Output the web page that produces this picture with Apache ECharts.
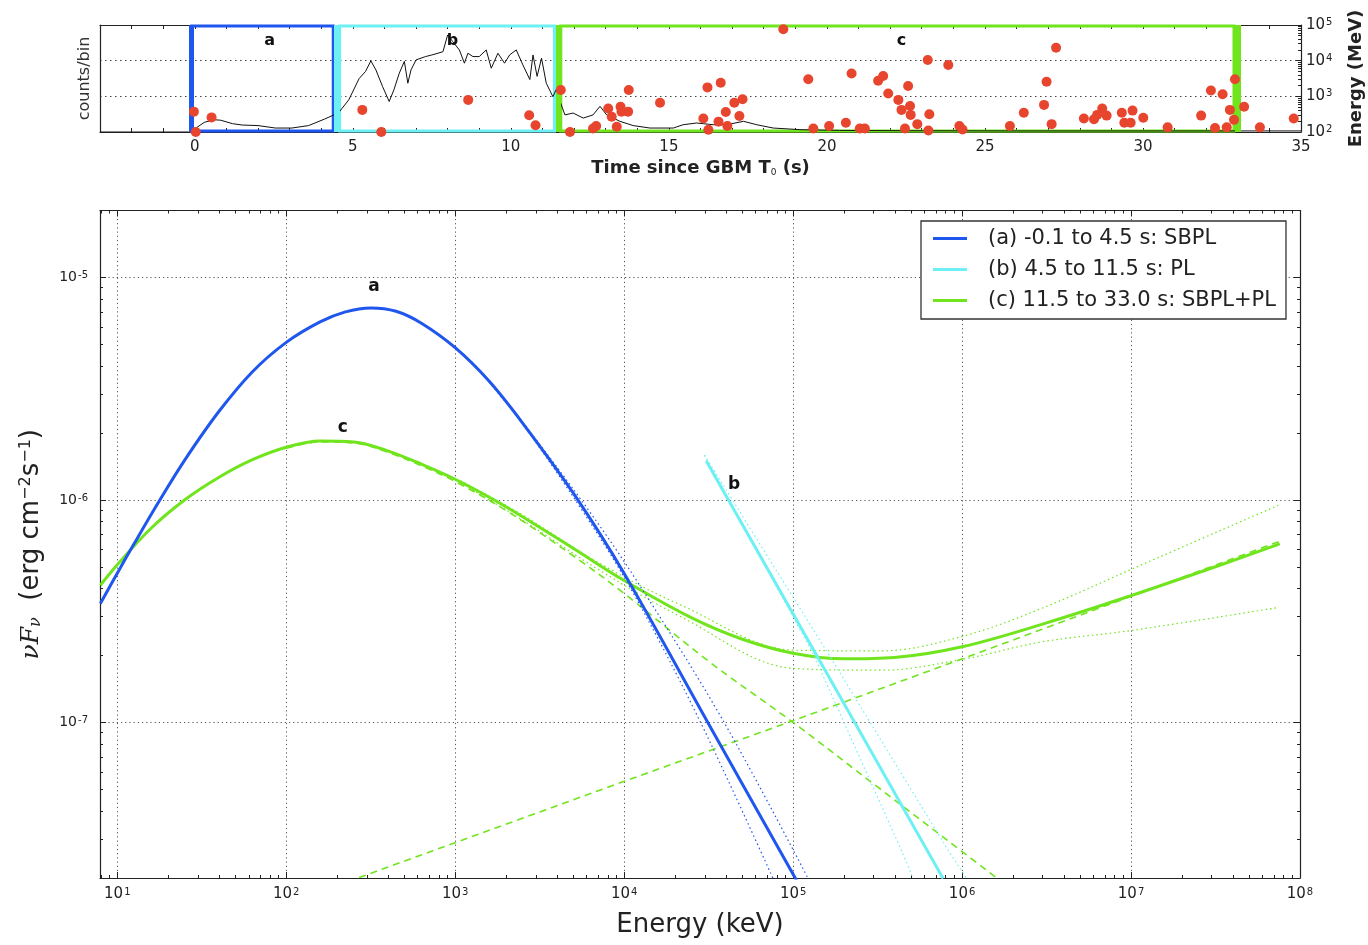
<!DOCTYPE html>
<html><head><meta charset="utf-8">
<script src="https://cdn.jsdelivr.net/npm/echarts@6/dist/echarts.min.js"></script>
<style>html,body{margin:0;padding:0;background:#fff}#c{width:1368px;height:945px}</style>
</head><body><div id="c"></div>
<script>
// ===== Top panel: light curve (arbitrary counts/bin, fraction of panel) =====
const lcTime = [-3,-0.2,0.05,0.3,0.6,0.82,1.19,1.5,2.0,2.55,3.07,3.6,4.1,4.55,4.87,5.2,5.4,5.57,5.73,5.94,6.15,6.3,6.47,6.63,6.74,6.84,7.0,7.3,7.5,7.85,8.0,8.16,8.37,8.53,8.64,8.8,9.0,9.22,9.38,9.59,9.8,9.96,10.17,10.38,10.6,10.7,10.83,10.97,11.12,11.33,11.44,11.54,11.71,11.97,12.29,12.6,12.82,13.03,13.45,13.87,14.4,15.14,15.45,15.88,16.4,16.83,17.36,17.78,18.3,19.15,20.4,22.5,26,30,35];
const lcCounts = [0,0,0.04,0.09,0.115,0.11,0.078,0.065,0.06,0.037,0.037,0.06,0.12,0.18,0.30,0.50,0.565,0.665,0.58,0.425,0.285,0.395,0.55,0.66,0.456,0.58,0.674,0.705,0.72,0.75,0.907,0.845,0.767,0.643,0.736,0.705,0.705,0.767,0.596,0.736,0.643,0.72,0.767,0.627,0.49,0.72,0.52,0.69,0.456,0.33,0.40,0.3,0.16,0.177,0.13,0.16,0.24,0.16,0.1,0.06,0.037,0.037,0.068,0.084,0.068,0.068,0.1,0.068,0.037,0.022,0.015,0.012,0.01,0.01,0.01];
// LAT photons: time (s) and energy (MeV)
const latTime = [-0.03,0.53,0.03,5.3,5.9,8.65,10.58,10.78,11.58,11.87,12.6,12.7,13.08,13.19,13.35,13.47,13.5,13.71,13.73,14.72,16.09,16.22,16.25,16.57,16.64,16.8,16.85,17.07,17.23,17.33,18.62,19.41,19.57,20.07,20.6,20.78,21.04,21.2,21.62,21.78,21.94,22.26,22.36,22.47,22.57,22.63,22.65,22.86,23.19,23.24,23.21,23.84,24.19,24.29,25.79,26.23,26.87,26.95,27.11,27.25,28.13,28.45,28.55,28.71,28.85,29.33,29.41,29.61,29.67,30.01,30.78,31.84,32.15,32.28,32.52,32.65,32.75,32.88,32.91,33.2,33.7,34.77];
const latEnergy = [372,257,100,417,100,794,295,155,1510,100,126,148,457,269,141,513,372,372,1510,661,240,1780,115,195,2400,363,148,661,282,832,75900,3020,126,148,182,4370,126,126,2750,3720,1200,794,417,126,1950,537,302,166,10500,316,110,7590,148,117,148,347,575,2570,166,22900,240,229,302,457,288,347,182,182,398,251,135,288,1450,129,1150,135,417,219,3020,513,135,240];
// time intervals
const intervalLetters = ['a','b','c'];
const intervalStart = [-0.1, 4.5, 11.5];
const intervalEnd = [4.5, 11.5, 33.0];
const intervalLabelTime = [2.37, 8.15, 22.36];
const intervalLabelEnergy = [35600, 35600, 35600];
const timeTickValues = [-3,-2,-1,0,1,2,3,4,5,6,7,8,9,10,11,12,13,14,15,16,17,18,19,20,21,22,23,24,25,26,27,28,29,30,31,32,33,34,35];
const timeLabelValues = [0,5,10,15,20,25,30,35];

// ===== Bottom panel: nuFnu spectra (keV, erg cm^-2 s^-1) =====
const aE = [7.943,10,12.59,17.78,25.12,39.81,63.1,100,158.5,223.9,316.2,446.7,631,1000,1585,2512,5012,10000,31620,104700];
const aF = [3.428e-7,4.688e-7,6.368e-7,9.94e-7,1.515e-6,2.491e-6,3.772e-6,5.11e-6,6.316e-6,7.005e-6,7.301e-6,7.053e-6,6.231e-6,4.835e-6,3.423e-6,2.211e-6,1.07e-6,4.672e-7,9.85e-8,1.953e-8];
const aLoE = [1585,2512,5557,10990,27900,75930];
const aLoF = [3.39e-6,2.19e-6,9.13e-7,3.97e-7,1.024e-7,1.996e-8];
const aHiE = [1585,2512,5948,12040,38380,122400];
const aHiF = [3.46e-6,2.235e-6,9.33e-7,4.26e-7,1.024e-7,1.996e-8];

const bE = [30570,143400,772000];
const bF = [1.499e-6,1.90e-7,1.99e-8];
const bLoE = [29870,131000,436900,512600];
const bLoF = [1.59e-6,2.048e-7,2.667e-8,1.996e-8];
const bHiE = [29870,160800,826300,1060000];
const bHiF = [1.59e-6,2.048e-7,2.667e-8,1.996e-8];

const cE = [7.943,10,15.85,25.12,39.81,63.1,100,158.5,251.2,398.1,631,1000,1995,5012,10000,25120,50120,1e5,199500,398100,1e6,3.162e6,1e7,3.162e7,7.586e7];
const cF = [4.14e-7,5.117e-7,7.464e-7,1.002e-6,1.262e-6,1.517e-6,1.726e-6,1.841e-6,1.824e-6,1.663e-6,1.449e-6,1.239e-6,9.33e-7,6.05e-7,4.345e-7,2.951e-7,2.366e-7,2.046e-7,1.932e-7,1.959e-7,2.188e-7,2.803e-7,3.715e-7,5.012e-7,6.346e-7];
const cHiE = [1081,2451,7298,21730,101900,332700,1.014e6,2.95e6,1.03e7,7.447e7];
const cHiF = [1.22e-6,8.64e-7,5.146e-7,3.367e-7,2.113e-7,2.098e-7,2.443e-7,3.254e-7,4.921e-7,9.475e-7];
const cLoE = [1081,2451,7298,21730,101900,332700,1.014e6,2.95e6,1.03e7,7.447e7];
const cLoF = [1.19e-6,8.2e-7,4.786e-7,2.983e-7,1.748e-7,1.718e-7,1.925e-7,2.302e-7,2.598e-7,3.288e-7];
const cSbplE = [100,158.5,251.2,398.1,631,1000,1995,5012,10000,31620,1e5,316200,1e6,1.778e6];
const cSbplF = [1.71e-6,1.824e-6,1.804e-6,1.641e-6,1.424e-6,1.21e-6,8.98e-7,5.6e-7,3.8e-7,1.884e-7,1.0e-7,5.13e-8,2.63e-8,1.884e-8];
const cPlE = [270,9810,101900,1.014e6,7.61e7];
const cPlF = [2.01e-8,5.41e-8,1.024e-7,1.939e-7,6.528e-7];

const specLabels = ['a','b','c'];
const specLabelE = [330,44780,216];
const specLabelF = [9.14e-6,1.178e-6,2.124e-6];

const legendNames = ['(a) -0.1 to 4.5 s: SBPL','(b) 4.5 to 11.5 s: PL','(c) 11.5 to 33.0 s: SBPL+PL'];

// ===== styling =====
const BLUE = '#1f56ee', CYAN = '#6cf0f4', GREEN = '#70e41c', RED = '#e8452e';
const FONT = 'DejaVu Sans';
const TXT = '#222';
const pairs = (xs, ys) => xs.map((x, i) => [x, ys[i]]);

function minorTicks(lo, hi, d0, d1) {
  const out = [];
  for (let d = d0; d <= d1; d++) for (let m = 2; m <= 9; m++) {
    const v = parseFloat((m * Math.pow(10, d)).toPrecision(6));
    if (v >= lo * 0.999 && v <= hi * 1.001) out.push(v);
  }
  return out;
}
const minorX = minorTicks(7.9, 1e8, 0, 7);
const minorY = minorTicks(2e-8, 2e-5, -8, -5);
const minorT = minorTicks(100, 1e5, 2, 4);

function pow10Label(v) {
  const l = Math.log10(v);
  const e = Math.round(l);
  if (Math.abs(l - e) > 1e-6) return '';
  return '10{sup|' + (e < 0 ? '-' + (-e) : e) + '}';
}
function logLabel(fs, sfs, margin) {
  return { show: true, fontFamily: FONT, fontSize: fs, color: TXT, margin: margin, formatter: pow10Label,
    showMinLabel: true, showMaxLabel: true,
    rich: { sup: { fontSize: sfs, fontFamily: FONT, color: TXT, verticalAlign: 'top', padding: [0, 0, 0, 1] } } };
}
const frame = { show: true, onZero: false, lineStyle: { color: '#222', width: 1.2 } };
const gridDots = { show: true, lineStyle: { color: '#555', width: 1, type: [1.2, 3] } };
const noLine = { show: false, onZero: false };

const xAxis = [
  { gridIndex: 0, type: 'value', min: -3, max: 35, position: 'bottom', axisLine: frame,
    axisTick: { show: true, inside: true, length: 4, customValues: timeTickValues, lineStyle: { color: '#222' } },
    axisLabel: { customValues: timeLabelValues, fontSize: 15, fontFamily: FONT, color: TXT, margin: 8 },
    splitLine: noLine,
    name: 'Time since GBM T{sub|0} (s)', nameLocation: 'middle', nameGap: 27,
    nameTextStyle: { fontSize: 18, fontWeight: 'bold', fontFamily: FONT, color: TXT,
      rich: { sub: { fontSize: 9, fontWeight: 'normal', verticalAlign: 'bottom', fontFamily: FONT, color: TXT } } } },
  { gridIndex: 0, type: 'value', min: -3, max: 35, position: 'top', axisLine: frame,
    axisTick: { show: true, inside: true, length: 4, customValues: timeTickValues, lineStyle: { color: '#222' } },
    axisLabel: { show: false }, splitLine: noLine },
  { gridIndex: 1, type: 'log', logBase: 10, min: 7.9, max: 1e8, position: 'bottom', axisLine: frame,
    axisTick: { show: true, inside: true, length: 6, lineStyle: { color: '#222' } },
    axisLabel: logLabel(15, 10, 9), splitLine: gridDots,
    name: 'Energy (keV)', nameLocation: 'middle', nameGap: 34,
    nameTextStyle: { fontSize: 26, fontFamily: FONT, color: TXT } },
  { gridIndex: 1, type: 'log', logBase: 10, min: 7.9, max: 1e8, position: 'top', axisLine: frame,
    axisTick: { show: true, inside: true, length: 6, lineStyle: { color: '#222' } },
    axisLabel: { show: false }, splitLine: noLine },
  { gridIndex: 1, type: 'log', logBase: 10, min: 7.9, max: 1e8, position: 'bottom', axisLine: noLine,
    axisTick: { show: true, inside: true, length: 3, customValues: minorX, lineStyle: { color: '#222' } },
    axisLabel: { show: false }, splitLine: noLine },
  { gridIndex: 1, type: 'log', logBase: 10, min: 7.9, max: 1e8, position: 'top', axisLine: noLine,
    axisTick: { show: true, inside: true, length: 3, customValues: minorX, lineStyle: { color: '#222' } },
    axisLabel: { show: false }, splitLine: noLine }
];

const yAxis = [
  { gridIndex: 0, type: 'value', min: 0, max: 1, position: 'left', axisLine: frame,
    axisTick: { show: false }, axisLabel: { show: false }, splitLine: noLine,
    name: 'counts/bin', nameLocation: 'middle', nameGap: 7,
    nameTextStyle: { fontSize: 16, fontFamily: FONT, color: '#333' } },
  { gridIndex: 0, type: 'log', logBase: 10, min: 100, max: 1e5, position: 'right', axisLine: frame,
    axisTick: { show: true, inside: true, length: 5, lineStyle: { color: '#222' } },
    axisLabel: logLabel(15, 10, 5),
    splitLine: { show: true, lineStyle: { color: '#444', width: 1, type: [1.5, 3.5] } },
    name: 'Energy (MeV)', nameLocation: 'middle', nameGap: 46, nameRotate: 90,
    nameTextStyle: { fontSize: 18, fontWeight: 'bold', fontFamily: FONT, color: TXT } },
  { gridIndex: 0, type: 'log', logBase: 10, min: 100, max: 1e5, position: 'right', axisLine: noLine,
    axisTick: { show: true, inside: true, length: 3, customValues: minorT, lineStyle: { color: '#222' } },
    axisLabel: { show: false }, splitLine: noLine },
  { gridIndex: 1, type: 'log', logBase: 10, min: 2e-8, max: 2e-5, position: 'left', axisLine: frame,
    axisTick: { show: true, inside: true, length: 6, lineStyle: { color: '#222' } },
    axisLabel: logLabel(14, 10, 12), splitLine: gridDots,
    name: '{it|νF}{itsub|ν}  (erg cm{sup|−2}s{sup|−1})', nameLocation: 'middle', nameGap: 56,
    nameTextStyle: { fontSize: 26, fontFamily: FONT, color: TXT,
      rich: {
        it: { fontSize: 25, fontStyle: 'italic', fontFamily: 'DejaVu Serif', color: TXT },
        itsub: { fontSize: 16, fontStyle: 'italic', fontFamily: 'DejaVu Serif', color: TXT, verticalAlign: 'bottom' },
        sup: { fontSize: 16, fontFamily: FONT, color: TXT, verticalAlign: 'top' }
      } } },
  { gridIndex: 1, type: 'log', logBase: 10, min: 2e-8, max: 2e-5, position: 'right', axisLine: frame,
    axisTick: { show: true, inside: true, length: 6, lineStyle: { color: '#222' } },
    axisLabel: { show: false }, splitLine: noLine },
  { gridIndex: 1, type: 'log', logBase: 10, min: 2e-8, max: 2e-5, position: 'left', axisLine: noLine,
    axisTick: { show: true, inside: true, length: 3, customValues: minorY, lineStyle: { color: '#222' } },
    axisLabel: { show: false }, splitLine: noLine },
  { gridIndex: 1, type: 'log', logBase: 10, min: 2e-8, max: 2e-5, position: 'right', axisLine: noLine,
    axisTick: { show: true, inside: true, length: 3, customValues: minorY, lineStyle: { color: '#222' } },
    axisLabel: { show: false }, splitLine: noLine }
];

const boxColors = [BLUE, CYAN, GREEN];
const markAreaData = intervalStart.map((s, i) => [
  { xAxis: s + (i === 0 ? 0 : 0.08), yAxis: 0.01, itemStyle: { color: 'rgba(0,0,0,0)', borderColor: boxColors[i], borderWidth: 3 } },
  { xAxis: intervalEnd[i] - 0.12, yAxis: 0.99 }
]);
const markLineData = intervalStart.map((s, i) => ({ xAxis: s, lineStyle: { color: boxColors[i], width: i === 1 ? 6 : 5, type: 'solid' } }))
  .concat([{ xAxis: intervalEnd[2], lineStyle: { color: GREEN, width: 6, type: 'solid' } }]);

function letterPoints(xs, ys, labels, fs) {
  return {
    symbol: 'rect', symbolSize: 1, silent: true, itemStyle: { color: 'rgba(0,0,0,0)' },
    label: { show: true, position: 'inside', fontSize: fs, fontWeight: 'bold', fontFamily: FONT, color: '#111',
      formatter: p => p.name },
    data: xs.map((x, i) => ({ name: labels[i], coord: [x, ys[i]] }))
  };
}

function curve(name, xs, ys, color, width, type, z, extra) {
  return Object.assign({
    type: 'line', name: name, xAxisIndex: 2, yAxisIndex: 3, data: pairs(xs, ys),
    showSymbol: false, symbol: 'none', smooth: 0.35, z: z, silent: true,
    itemStyle: { color: color }, lineStyle: { color: color, width: width, type: type }
  }, extra || {});
}

const series = [
  { type: 'line', name: 'light curve', xAxisIndex: 0, yAxisIndex: 0, data: pairs(lcTime, lcCounts),
    showSymbol: false, symbol: 'none', z: 4, silent: true,
    lineStyle: { color: '#111', width: 1 }, itemStyle: { color: '#111' },
    markArea: { silent: true, data: markAreaData },
    markLine: { silent: true, symbol: ['none', 'none'], label: { show: false }, data: markLineData } },
  { type: 'scatter', name: 'LAT photons', xAxisIndex: 0, yAxisIndex: 1, data: pairs(latTime, latEnergy),
    symbolSize: 10, z: 6, silent: true, itemStyle: { color: RED, opacity: 1 },
    markPoint: letterPoints(intervalLabelTime, intervalLabelEnergy, intervalLetters, 16) },
  // bottom panel
  curve('c PL comp', cPlE, cPlF, GREEN, 1.6, [7, 5], 2, { smooth: false }),
  curve('c SBPL comp', cSbplE, cSbplF, GREEN, 1.6, [7, 5], 2),
  curve('c hi', cHiE, cHiF, GREEN, 1.2, [1.5, 3], 2),
  curve('c lo', cLoE, cLoF, GREEN, 1.2, [1.5, 3], 2),
  curve(legendNames[2], cE, cF, GREEN, 3, 'solid', 3,
    { markPoint: letterPoints([specLabelE[2]], [specLabelF[2]], [specLabels[2]], 17) }),
  curve('a lo', aLoE, aLoF, BLUE, 1.2, [1.5, 3], 4),
  curve('a hi', aHiE, aHiF, BLUE, 1.2, [1.5, 3], 4),
  curve(legendNames[0], aE, aF, BLUE, 3, 'solid', 5,
    { markPoint: letterPoints([specLabelE[0]], [specLabelF[0]], [specLabels[0]], 17) }),
  curve('b lo', bLoE, bLoF, CYAN, 1.2, [1.5, 3], 6, { smooth: false }),
  curve('b hi', bHiE, bHiF, CYAN, 1.2, [1.5, 3], 6, { smooth: false }),
  curve(legendNames[1], bE, bF, CYAN, 3, 'solid', 7,
    { smooth: false, markPoint: letterPoints([specLabelE[1]], [specLabelF[1]], [specLabels[1]], 17) })
];

const option = {
  animation: false,
  backgroundColor: '#fff',
  textStyle: { fontFamily: FONT },
  grid: [
    { left: 100, right: 67, top: 25, height: 107, outerBoundsMode: 'none' },
    { left: 100, right: 68, top: 210.5, height: 667.5, outerBoundsMode: 'none' }
  ],
  legend: {
    data: legendNames, orient: 'vertical', left: 921, top: 221, padding: [7, 10, 8, 12],
    itemGap: 10, itemWidth: 34, itemHeight: 3, icon: 'rect', selectedMode: false,
    borderColor: '#333', borderWidth: 1.3, backgroundColor: '#fff', z: 20,
    textStyle: { fontSize: 21, fontFamily: FONT, color: TXT, padding: [0, 0, 0, 16] }
  },
  xAxis: xAxis,
  yAxis: yAxis,
  series: series
};

const chart = echarts.init(document.getElementById('c'), null, { renderer: 'canvas' });
chart.setOption(option);
</script>
</body></html>
